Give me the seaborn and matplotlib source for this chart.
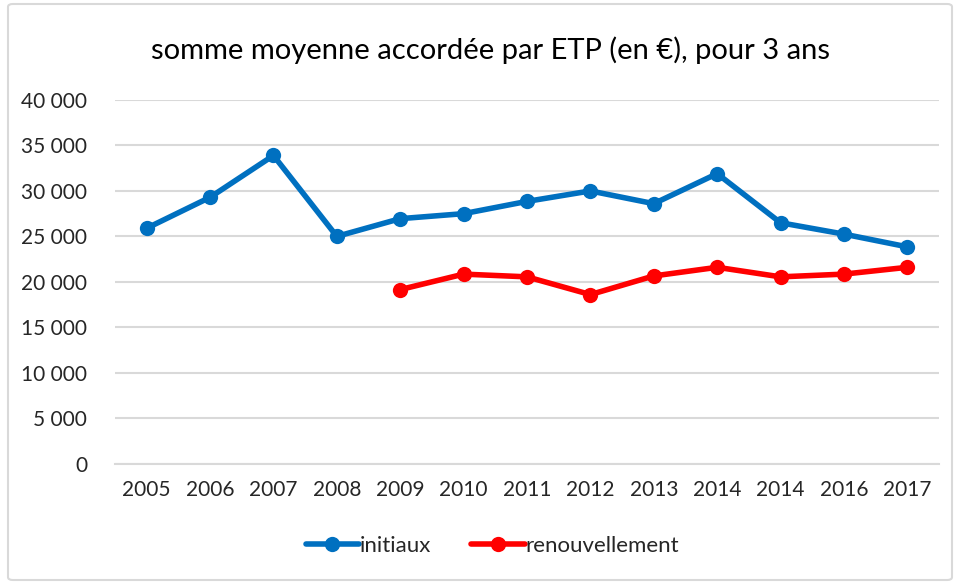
import matplotlib
matplotlib.use("Agg")
import matplotlib.pyplot as plt
import matplotlib.ticker as mticker
from matplotlib.patches import FancyBboxPatch
import numpy as np
import pandas as pd
import seaborn as sns

years = ["2005", "2006", "2007", "2008", "2009", "2010", "2011", "2012",
         "2013", "2014", "2014", "2016", "2017"]
initiaux = [25900, 29300, 33900, 25000, 26950, 27500, 28850, 30000,
            28600, 31900, 26500, 25250, 23850]
renouvellement = [np.nan, np.nan, np.nan, np.nan, 19150, 20850, 20550, 18600,
                  20650, 21600, 20550, 20850, 21600]
series_names = ["initiaux", "renouvellement"]
title = "somme moyenne accordée par ETP (en €), pour 3 ans"

sns.set_theme(style="white")
plt.rcParams["font.family"] = ["Lato", "DejaVu Sans"]

idx = list(range(len(years)))
df = pd.concat([
    pd.DataFrame({"pos": idx, "val": initiaux, "serie": series_names[0]}),
    pd.DataFrame({"pos": idx, "val": renouvellement, "serie": series_names[1]}),
]).dropna()

fig = plt.figure(figsize=(9.6, 5.83), dpi=100)
ax = fig.add_axes([115 / 960, 1 - 463.7 / 583, (939 - 115) / 960, (463.7 - 100) / 583])

sns.lineplot(data=df, x="pos", y="val", hue="serie",
             palette={"initiaux": "#0070C0", "renouvellement": "#FF0000"},
             marker="o", markersize=11, markeredgewidth=0, linewidth=4,
             ax=ax, legend=True)

ax.set_xlim(-0.5, len(years) - 0.5)
ax.set_ylim(0, 40000)
ax.set_yticks(np.arange(0, 40001, 5000))
ax.yaxis.set_major_formatter(mticker.FuncFormatter(
    lambda v, p: f"{int(v):,}".replace(",", " ")))
ax.set_xticks(idx)
ax.set_xticklabels(years)
ax.set_xlabel("")
ax.set_ylabel("")
ax.grid(axis="y", color="#D9D9D9", linewidth=1.5)
ax.grid(axis="x", visible=False)
ax.set_axisbelow(True)
for s in ["top", "right", "left"]:
    ax.spines[s].set_visible(False)
ax.spines["bottom"].set_color("#D9D9D9")
ax.spines["bottom"].set_linewidth(1.5)
ax.tick_params(axis="both", length=0, labelsize=15, colors="#262626")
ax.tick_params(axis="x", pad=12)
ax.tick_params(axis="y", pad=20)

handles, labels = ax.get_legend_handles_labels()
ax.legend(handles, labels, loc="center", bbox_to_anchor=(0.513, 1 - 546 / 583),
          bbox_transform=fig.transFigure, ncol=2, frameon=False, fontsize=16,
          handlelength=2.4, handletextpad=0.05, columnspacing=1.8,
          labelcolor="#262626")

fig.text(0.511, 1 - 50 / 583, title, ha="center", va="center", fontsize=21,
         color="#000000")

border = FancyBboxPatch((8 / 960, 3 / 583), 944 / 960, 576 / 583,
                        boxstyle="round,pad=0,rounding_size=0.005",
                        transform=fig.transFigure, facecolor="none",
                        edgecolor="#D9D9D9", linewidth=1.5)
fig.patches.append(border)

fig.savefig("out.png", dpi=100)
